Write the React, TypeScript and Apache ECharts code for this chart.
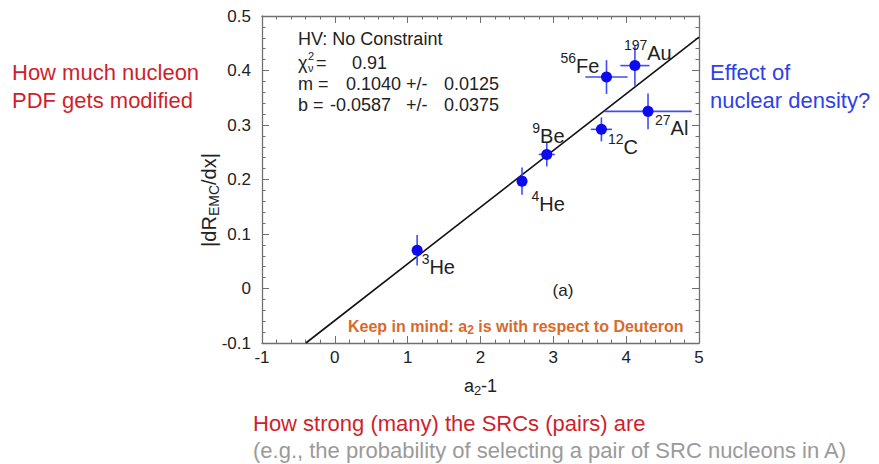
import React, { useEffect, useRef } from "react";
import * as echarts from "echarts";

// Nuclei: mass number (superscript) + element symbol
const massNumbers = ["3", "4", "9", "12", "27", "56", "197"];
const elements = ["He", "He", "Be", "C", "Al", "Fe", "Au"];
// a2 - 1 (x) and |dR_EMC/dx| (y) with their uncertainties
const a2Minus1 = [1.13, 2.57, 2.91, 3.66, 4.3, 3.73, 4.12];
const emcSlope = [0.07, 0.197, 0.246, 0.292, 0.325, 0.388, 0.409];
const a2Err = [0.03, 0.05, 0.11, 0.145, 0.6, 0.29, 0.2];
const emcErr = [0.028, 0.025, 0.022, 0.022, 0.033, 0.031, 0.037];
// where each nucleus label sits relative to its point (px)
const labelOffsets = [
  [4.5, 17],
  [9.5, 23],
  [-14.5, -18],
  [6.5, 18],
  [7, 17],
  [-46, -11.5],
  [-11, -13],
];

// linear fit
const FIT_M = 0.104;
const FIT_B = -0.0587;

const xTicks = [-1, 0, 1, 2, 3, 4, 5];
const yTicks = [-0.1, 0, 0.1, 0.2, 0.3, 0.4, 0.5];

const fitTitle = "HV: No Constraint";
const fitParams = [
  ["m =", "0.1040", "+/-", "0.0125"],
  ["b =", "-0.0587", "+/-", "0.0375"],
];
const chiSquare = "0.91";

const FONT = "Liberation Sans, Arial, Helvetica, sans-serif";
const INK = "#222";
const FRAME = "#707070";

export default function App() {
  const ref = useRef<HTMLDivElement>(null);

  useEffect(() => {
    if (!ref.current) return;
    const chart = echarts.init(ref.current, undefined, { renderer: "svg" });

    const xMin = xTicks[0];
    const xMax = xTicks[xTicks.length - 1];
    const yMin = yTicks[0];
    const yMax = yTicks[yTicks.length - 1];
    const fitStart = (yMin - FIT_B) / FIT_M;

    const tickStyle = { color: FRAME, width: 1 };
    const baseAxis = {
      type: "value" as const,
      axisLine: { show: true, onZero: false, lineStyle: { color: FRAME, width: 1.3 } },
      axisTick: { show: true, inside: true, length: 7, lineStyle: tickStyle },
      minorTick: { show: true, splitNumber: 5, length: 3.5, lineStyle: tickStyle },
      splitLine: { show: false },
    };

    const points = a2Minus1.map((x, i) => ({
      value: [x, emcSlope[i]],
      label: {
        show: true,
        position: "inside",
        align: "left",
        verticalAlign: "middle",
        offset: labelOffsets[i],
        formatter: `{m|${massNumbers[i]}}{e|${elements[i]}}`,
        rich: {
          m: { fontSize: 14, fontFamily: FONT, color: INK, padding: [0, 0, 16, 0] },
          e: { fontSize: 20, fontFamily: FONT, color: INK },
        },
      },
    }));

    const errData = a2Minus1.map((x, i) => [x, emcSlope[i], a2Err[i], emcErr[i]]);

    const textStyle = (size: number, color: string, weight = "normal") => ({
      fontSize: size,
      fontFamily: FONT,
      fill: color,
      fontWeight: weight,
    });

    const paramCols = [298, 346, 406, 444];
    const paramColsB = [298, 330, 406, 444];

    const graphics: any[] = [
      {
        type: "text",
        x: 298,
        y: 39,
        style: { text: fitTitle, verticalAlign: "middle", ...textStyle(18, INK) },
      },
      // reduced chi-square: χ with superscript 2 and subscript ν
      {
        type: "text",
        x: 298,
        y: 63,
        style: { text: "χ", verticalAlign: "middle", ...textStyle(18, INK) },
      },
      {
        type: "text",
        x: 308,
        y: 56,
        style: { text: "2", verticalAlign: "middle", ...textStyle(11, INK) },
      },
      {
        type: "text",
        x: 308,
        y: 68,
        style: { text: "ν", verticalAlign: "middle", ...textStyle(11, INK) },
      },
      {
        type: "text",
        x: 316,
        y: 63,
        style: { text: "=", verticalAlign: "middle", ...textStyle(18, INK) },
      },
      {
        type: "text",
        x: 352,
        y: 63,
        style: { text: chiSquare, verticalAlign: "middle", ...textStyle(18, INK) },
      },
      ...fitParams.flatMap((row, r) =>
        row.map((t, c) => ({
          type: "text",
          x: (r === 0 ? paramCols : paramColsB)[c],
          y: 84 + r * 21,
          style: { text: t, verticalAlign: "middle", ...textStyle(18, INK) },
        }))
      ),
      {
        type: "text",
        x: 563,
        y: 290,
        style: { text: "(a)", align: "center", verticalAlign: "middle", ...textStyle(17, INK) },
      },
      {
        type: "text",
        x: 348,
        y: 326,
        style: {
          text: "{a|Keep in mind: a}{s|2}{a| is with respect to Deuteron}",
          verticalAlign: "middle",
          rich: {
            a: { fontSize: 16, fontFamily: FONT, fontWeight: "bold", fill: "#d96a2b" },
            s: { fontSize: 12, fontFamily: FONT, fontWeight: "bold", fill: "#d96a2b", padding: [8, 0, 0, 0] },
          },
        },
      },
      {
        type: "text",
        x: 209,
        y: 200,
        rotation: Math.PI / 2,
        style: {
          text: "{a||dR}{s|EMC}{a|/dx|}",
          align: "center",
          verticalAlign: "middle",
          rich: {
            a: { fontSize: 20, fontFamily: FONT, fill: INK },
            s: { fontSize: 14, fontFamily: FONT, fill: INK, padding: [10, 0, 0, 0] },
          },
        },
      },
      {
        type: "text",
        x: 12,
        y: 72,
        style: { text: "How much nucleon", verticalAlign: "middle", ...textStyle(22, "#cf1f2c") },
      },
      {
        type: "text",
        x: 12,
        y: 100,
        style: { text: "PDF gets modified", verticalAlign: "middle", ...textStyle(22, "#cf1f2c") },
      },
      {
        type: "text",
        x: 710,
        y: 72,
        style: { text: "Effect of", verticalAlign: "middle", ...textStyle(22, "#2f3fea") },
      },
      {
        type: "text",
        x: 710,
        y: 100,
        style: { text: "nuclear density?", verticalAlign: "middle", ...textStyle(22, "#2f3fea") },
      },
      {
        type: "text",
        x: 253,
        y: 423,
        style: { text: "How strong (many) the SRCs (pairs) are", verticalAlign: "middle", ...textStyle(22, "#cf1f2c") },
      },
      {
        type: "text",
        x: 253,
        y: 450,
        style: {
          text: "(e.g., the probability of selecting a pair of SRC nucleons in A)",
          verticalAlign: "middle",
          ...textStyle(22, "#9a9a9a"),
        },
      },
    ];

    chart.setOption({
      animation: false,
      backgroundColor: "#fff",
      grid: { left: 262, top: 16, width: 437, height: 327 },
      xAxis: [
        {
          ...baseAxis,
          min: xMin,
          max: xMax,
          interval: 1,
          position: "bottom",
          axisLabel: { fontSize: 17, fontFamily: FONT, color: INK, margin: 6 },
          name: "{a|a}{s|2}{a|-1}",
          nameLocation: "middle",
          nameGap: 31,
          nameTextStyle: {
            rich: {
              a: { fontSize: 18, fontFamily: FONT, color: INK },
              s: { fontSize: 13, fontFamily: FONT, color: INK, padding: [10, 0, 0, 0] },
            },
          },
        },
        {
          ...baseAxis,
          min: xMin,
          max: xMax,
          interval: 1,
          position: "top",
          axisLabel: { show: false },
        },
      ],
      yAxis: [
        {
          ...baseAxis,
          min: yMin,
          max: yMax,
          interval: 0.1,
          position: "left",
          axisLabel: {
            fontSize: 17,
            fontFamily: FONT,
            color: INK,
            margin: 11,
            formatter: (v: number) => (Math.abs(v) < 1e-9 ? "0" : v.toFixed(1)),
          },
        },
        {
          ...baseAxis,
          min: yMin,
          max: yMax,
          interval: 0.1,
          position: "right",
          axisLabel: { show: false },
        },
      ],
      graphic: graphics,
      series: [
        {
          type: "line",
          xAxisIndex: 0,
          yAxisIndex: 0,
          data: [
            [fitStart, FIT_M * fitStart + FIT_B],
            [xMax, FIT_M * xMax + FIT_B],
          ],
          symbol: "none",
          lineStyle: { color: "#111", width: 1.6 },
          z: 2,
        },
        {
          type: "custom",
          xAxisIndex: 0,
          yAxisIndex: 0,
          data: errData,
          encode: { x: 0, y: 1 },
          renderItem: (_params: any, api: any) => {
            const x = api.value(0);
            const y = api.value(1);
            const ex = api.value(2);
            const ey = api.value(3);
            const l = api.coord([x - ex, y]);
            const r = api.coord([x + ex, y]);
            const t = api.coord([x, y + ey]);
            const b = api.coord([x, y - ey]);
            const style = { stroke: "#3d4ef2", lineWidth: 1.6 };
            return {
              type: "group",
              children: [
                { type: "line", shape: { x1: l[0], y1: l[1], x2: r[0], y2: r[1] }, style },
                { type: "line", shape: { x1: t[0], y1: t[1], x2: b[0], y2: b[1] }, style },
              ],
            };
          },
          z: 3,
        },
        {
          type: "scatter",
          xAxisIndex: 0,
          yAxisIndex: 0,
          data: points,
          symbol: "circle",
          symbolSize: 11,
          itemStyle: { color: "#0b0bee", opacity: 1 },
          z: 4,
        },
      ],
    });

    return () => chart.dispose();
  }, []);

  return (
    <div
      ref={ref}
      style={{ position: "absolute", left: 0, top: 0, width: 879, height: 464, background: "#fff" }}
    />
  );
}
